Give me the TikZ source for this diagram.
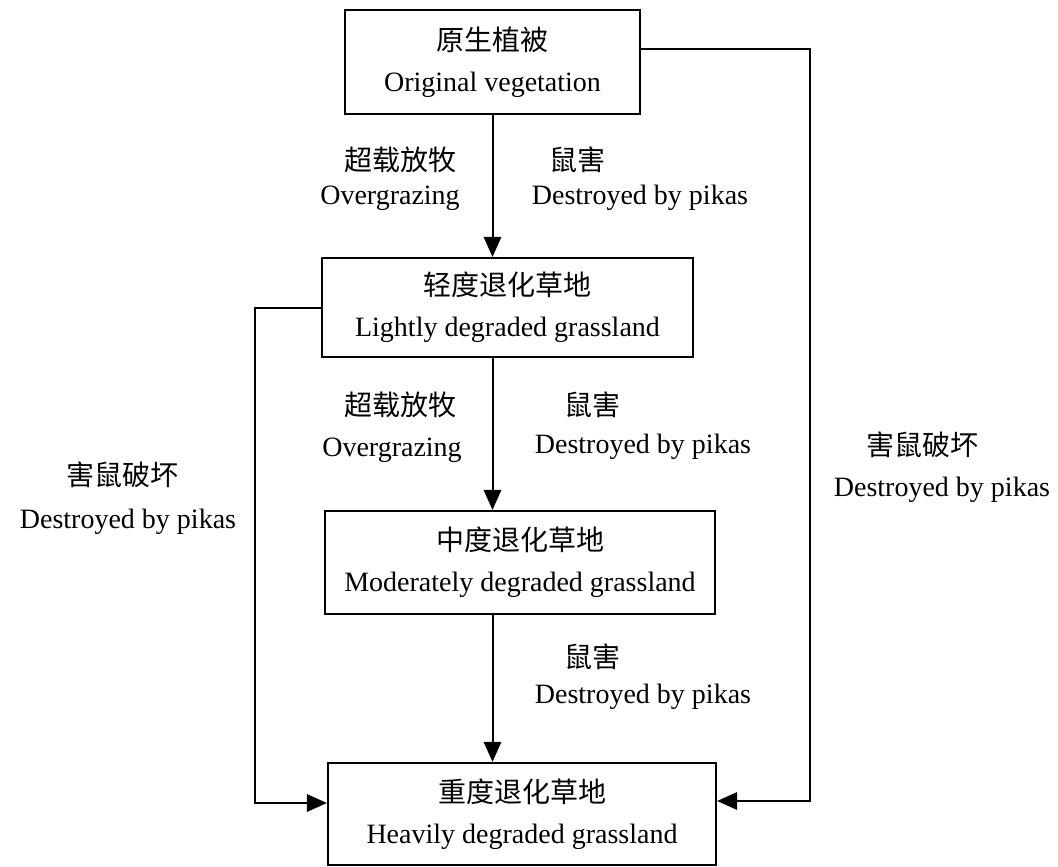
\documentclass[tikz,border=0pt]{standalone}
\usepackage{fontspec}
\setmainfont{Liberation Serif}
\newfontfamily\cjk{Noto Sans CJK SC}
\newcommand{\zh}[1]{{\cjk #1}}
\usetikzlibrary{arrows.meta,positioning}

\begin{document}
\begin{tikzpicture}[
        x=0.375pt, y=-0.375pt,
        font=\fontsize{10.5}{15.5}\selectfont,
        stage/.style = {
            draw,
            line width=0.8pt,
            align=center,
            inner sep=0pt},
        flow/.style = {
            line width=0.75pt,
            -{Triangle[length=7.5pt,width=6.5pt]}},
        tag/.style = {inner sep=1pt}
    ]
    \useasboundingbox (0,0) rectangle (1058,866);

    \node[stage, minimum width=110.6pt, minimum height=39pt] (orig) at (492.5,62)
        {\zh{原生植被}\\Original vegetation};
    \node[stage, minimum width=139.1pt, minimum height=37.1pt] (light) at (507.5,307.5)
        {\zh{轻度退化草地}\\Lightly degraded grassland};
    \node[stage, minimum width=146.3pt, minimum height=38.6pt] (moder) at (520,562.5)
        {\zh{中度退化草地}\\Moderately degraded grassland};
    \node[stage, minimum width=145.5pt, minimum height=38.3pt] (heavy) at (522,814)
        {\zh{重度退化草地}\\Heavily degraded grassland};

    \coordinate (lft) at (255,803);
    \coordinate (rgt) at (810,801);

    \draw[flow] (orig.south) -- (orig.south |- light.north);
    \draw[flow] (orig.south |- light.south) -- (orig.south |- moder.north);
    \draw[flow] (orig.south |- moder.south) -- (orig.south |- heavy.north);
    \draw[flow] (light.west) -| (lft) -- (lft -| heavy.west);
    \draw[flow] ([yshift=5pt]orig.east) -| (rgt) -- (rgt -| heavy.east);

    \node[tag] (gz1) at (400,160) {\zh{超载放牧}};
    \node[tag] (gz1e) at (390,198) {Overgrazing};
    \node[tag] (pk1) at (577,160) {\zh{鼠害}};
    \node[tag] (pk1e) at (640,198) {Destroyed by pikas};

    \node[tag] (gz2) at (400,405) {\zh{超载放牧}};
    \node[tag] (gz2e) at (392,450) {Overgrazing};
    \node[tag] (pk2) at (592,405) {\zh{鼠害}};
    \node[tag] (pk2e) at (643,447) {Destroyed by pikas};

    \node[tag] (pk3) at (592,657) {\zh{鼠害}};
    \node[tag] (pk3e) at (643,697) {Destroyed by pikas};

    \node[tag] (dl) at (122,475) {\zh{害鼠破坏}};
    \node[tag] (dle) at (128,522) {Destroyed by pikas};
    \node[tag] (dr) at (922,445) {\zh{害鼠破坏}};
    \node[tag] (dre) at (942,490) {Destroyed by pikas};
\end{tikzpicture}
\end{document}
